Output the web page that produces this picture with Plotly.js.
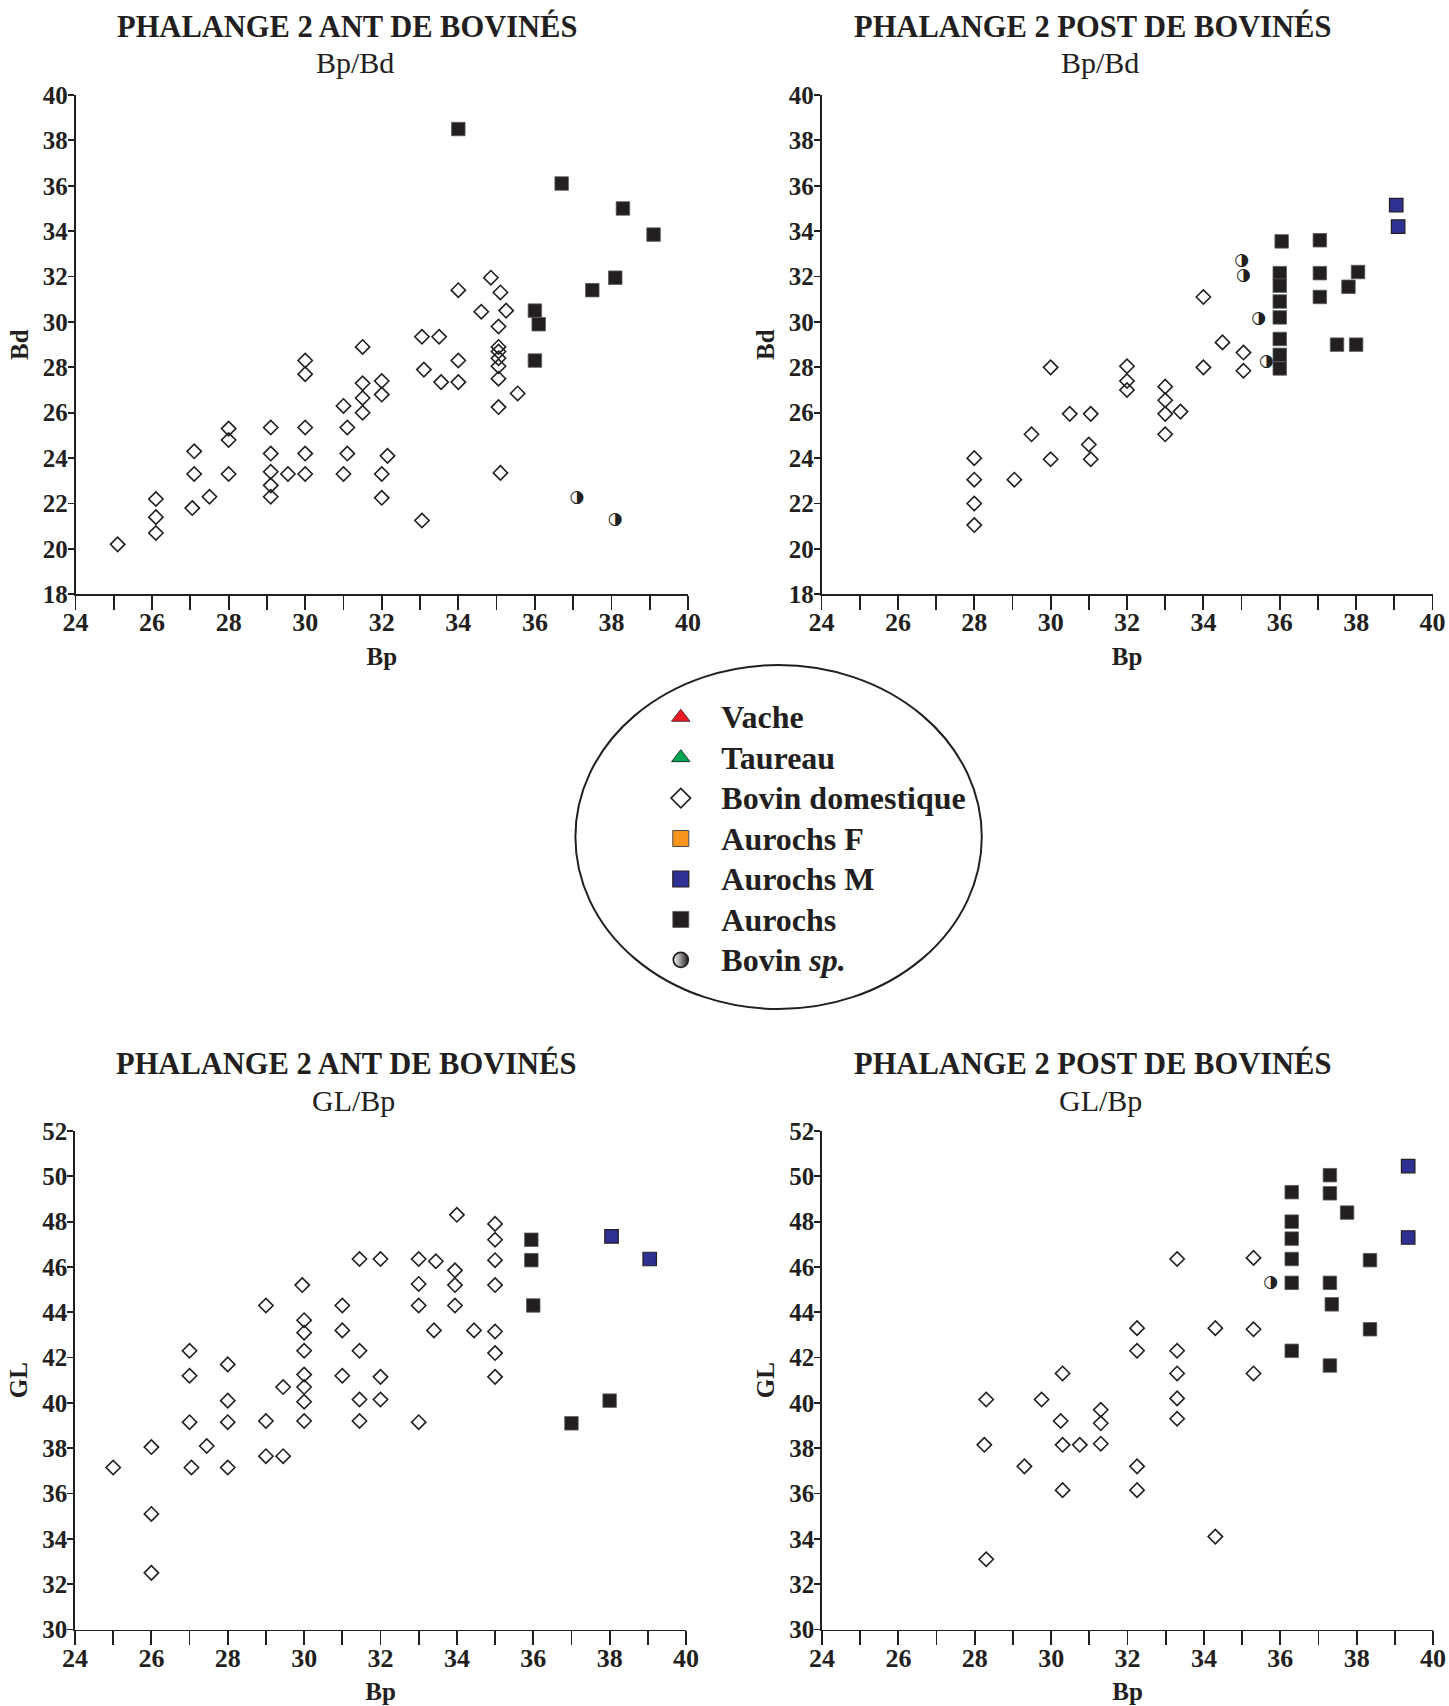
<!DOCTYPE html>
<html>
<head>
<meta charset="utf-8">
<script src="https://cdn.plot.ly/plotly-3.0.1.min.js"></script>
<style>
html,body{margin:0;padding:0;background:#ffffff;}
#chart{width:1449px;height:1706px;}
</style>
</head>
<body>
<div id="chart"></div>
<script>
// ---------- DATA ----------
// Panel 1 : Phalange 2 ANT, Bp / Bd
var antBd_domBp = [25.1,26.1,26.1,26.1,27.1,27.1,27.05,27.5,28,28,28,29.1,29.1,29.1,29.1,29.1,29.55,30,30,30,30,30,31,31.1,31.1,31,31.5,31.5,31.5,31.5,32,32,32,32,34.85,34,35.1,34.6,35.25,35.05,33.05,33.5,35.05,35.05,35.05,35.05,35.05,34,33.1,33.55,34,35.55,35.05,32.15,35.1,33.05];
var antBd_domBd = [20.2,22.2,21.4,20.7,24.3,23.3,21.8,22.3,25.3,24.8,23.3,25.35,24.2,23.4,22.8,22.3,23.3,28.3,27.7,25.35,24.2,23.3,26.3,25.35,24.2,23.3,28.9,27.3,26.65,26.0,27.4,26.8,23.3,22.25,31.95,31.4,31.3,30.45,30.5,29.8,29.35,29.35,28.9,28.7,28.4,28.05,27.5,28.3,27.9,27.35,27.35,26.85,26.25,24.1,23.35,21.25];
var antBd_aurBp = [34.0,36.7,38.3,39.1,38.1,37.5,36.0,36.1,36.0];
var antBd_aurBd = [38.5,36.1,35.0,33.85,31.95,31.4,30.5,29.9,28.3];
var antBd_spBp = [37.1,38.1];
var antBd_spBd = [22.25,21.3];

// Panel 2 : Phalange 2 POST, Bp / Bd
var postBd_domBp = [28,28,28,28,29.05,29.5,30,30,30.5,31.05,31,31.05,32,32,32,33,33,33,33.4,33,34,34,34.5,35.05,35.05];
var postBd_domBd = [24,23.05,22,21.05,23.05,25.05,28,23.95,25.95,25.95,24.6,23.95,28.05,27.4,27,27.15,26.55,25.95,26.05,25.05,31.1,28,29.1,28.65,27.85];
var postBd_aurBp = [36.05,36,36,36,36,36,36,36,37.05,37.05,37.05,38.05,37.8,37.5,38];
var postBd_aurBd = [33.55,32.15,31.6,30.9,30.2,29.25,28.55,27.95,33.6,32.15,31.1,32.2,31.55,29.0,29.0];
var postBd_aurMBp = [39.05,39.1];
var postBd_aurMBd = [35.15,34.2];
var postBd_spBp = [35.0,35.05,35.45,35.65];
var postBd_spBd = [32.7,32.05,30.15,28.25];

// Panel 3 : Phalange 2 ANT, GL / Bp
var antGL_domBp = [25.0,26.0,26.0,26.0,27.0,27.0,27.0,27.05,27.45,28.0,28.0,28.0,28.0,29.0,29.0,29.0,29.45,29.45,29.95,30.0,30.0,30.0,30.0,30.0,30.0,30.0,31.0,31.0,31.0,31.45,31.45,31.45,31.45,32.0,32.0,32.0,34.0,35.0,35.0,33.0,33.45,35.0,33.95,33.0,33.95,35.0,33.0,33.95,33.4,34.45,35.0,35.0,35.0,33.0];
var antGL_domGL = [37.15,38.05,35.1,32.5,42.3,41.2,39.15,37.15,38.1,41.7,40.1,39.15,37.15,44.3,39.2,37.65,40.7,37.65,45.2,43.65,43.1,42.3,41.25,40.7,40.05,39.2,44.3,43.2,41.2,46.35,42.3,40.15,39.2,46.35,41.15,40.15,48.3,47.9,47.2,46.35,46.25,46.3,45.85,45.25,45.2,45.2,44.3,44.3,43.2,43.2,43.15,42.2,41.15,39.15];
var antGL_aurBp = [35.95,35.95,36.0,38.0,37.0];
var antGL_aurGL = [47.2,46.3,44.3,40.1,39.1];
var antGL_aurMBp = [38.05,39.05];
var antGL_aurMGL = [47.35,46.35];

// Panel 4 : Phalange 2 POST, GL / Bp
var postGL_domBp = [28.3,28.25,28.3,29.3,29.75,30.3,30.25,30.3,30.3,30.75,31.3,31.3,31.3,32.25,32.25,32.25,32.25,33.3,33.3,33.3,33.3,33.3,34.3,34.3,35.3,35.3,35.3];
var postGL_domGL = [40.15,38.15,33.1,37.2,40.15,41.3,39.2,38.15,36.15,38.15,39.7,39.1,38.2,43.3,42.3,37.2,36.15,46.35,42.3,41.3,40.2,39.3,43.3,34.1,46.4,43.25,41.3];
var postGL_aurBp = [36.3,36.3,36.3,36.3,36.3,36.3,37.3,37.3,37.75,37.3,37.35,37.3,38.35,38.35];
var postGL_aurGL = [49.3,48.0,47.25,46.35,45.3,42.3,50.05,49.25,48.4,45.3,44.35,41.65,46.3,43.25];
var postGL_aurMBp = [39.35,39.35];
var postGL_aurMGL = [50.45,47.3];
var postGL_spBp = [35.75];
var postGL_spGL = [45.3];

// Labels
var panelTitles = ['PHALANGE 2 ANT DE BOVINÉS','PHALANGE 2 POST DE BOVINÉS','PHALANGE 2 ANT DE BOVINÉS','PHALANGE 2 POST DE BOVINÉS'];
var panelSubtitles = ['Bp/Bd','Bp/Bd','GL/Bp','GL/Bp'];
var legendNames = ['Vache','Taureau','Bovin domestique','Aurochs F','Aurochs M','Aurochs','Bovin <i>sp.</i>'];

// ---------- STYLE ----------
var INK = '#231f20';
var FONT = 'Liberation Serif';
var W = 1449, H = 1706;
var HALF_DISC = '\u25D1';   // circle with right half black (Bovin sp.)

var styles = {
  vache:   {symbol:'triangle-up', color:'#ed1c24', line:{color:'#5a2a2a', width:1}},
  taureau: {symbol:'triangle-up', color:'#00a651', line:{color:'#1e3a2a', width:1}},
  dom:     {symbol:'diamond-open', color:INK, line:{color:INK, width:1.6}},
  aurF:    {symbol:'square', color:'#f7941d', line:{color:'#4a4a4a', width:1}},
  aurM:    {symbol:'square', color:'#2e3192', line:{color:INK, width:1.2}},
  aur:     {symbol:'square', color:INK, line:{color:'#5a5a5a', width:0.8}},
  sp:      {symbol:'circle', color:'#ffffff', gradient:{type:'horizontal', color:INK}, line:{color:INK, width:1.8}}
};
var sizes = {dom:11, aur:13.5, aurM:13.5, sp:10, vache:14, taureau:14, aurF:14};

function mk(style, size){
  var m = JSON.parse(JSON.stringify(styles[style]));
  m.size = size;
  return m;
}
function pts(x, y, style, xa, ya){
  return {type:'scatter', mode:'markers', x:x, y:y, xaxis:xa, yaxis:ya,
          marker:mk(style, sizes[style]), showlegend:false, hoverinfo:'x+y', cliponaxis:false};
}
function halfDiscs(x, y, xa, ya){
  return {type:'scatter', mode:'text', x:x, y:y, xaxis:xa, yaxis:ya,
          text:x.map(function(){ return HALF_DISC; }), textposition:'middle center',
          textfont:{family:'DejaVu Sans', size:17, color:INK},
          showlegend:false, hoverinfo:'x+y', cliponaxis:false};
}

var traces = [
  pts(antBd_domBp, antBd_domBd, 'dom', 'x', 'y'),
  halfDiscs(antBd_spBp, antBd_spBd, 'x', 'y'),
  pts(antBd_aurBp, antBd_aurBd, 'aur', 'x', 'y'),

  pts(postBd_domBp, postBd_domBd, 'dom', 'x2', 'y2'),
  halfDiscs(postBd_spBp, postBd_spBd, 'x2', 'y2'),
  pts(postBd_aurBp, postBd_aurBd, 'aur', 'x2', 'y2'),
  pts(postBd_aurMBp, postBd_aurMBd, 'aurM', 'x2', 'y2'),

  pts(antGL_domBp, antGL_domGL, 'dom', 'x3', 'y3'),
  pts(antGL_aurBp, antGL_aurGL, 'aur', 'x3', 'y3'),
  pts(antGL_aurMBp, antGL_aurMGL, 'aurM', 'x3', 'y3'),

  pts(postGL_domBp, postGL_domGL, 'dom', 'x4', 'y4'),
  halfDiscs(postGL_spBp, postGL_spGL, 'x4', 'y4'),
  pts(postGL_aurBp, postGL_aurGL, 'aur', 'x4', 'y4'),
  pts(postGL_aurMBp, postGL_aurMGL, 'aurM', 'x4', 'y4')
];

// legend keys (one entry per category, bigger symbols as in the original key)
var legendStyles = ['vache','taureau','dom','aurF','aurM','aur','sp'];
var legendSizes = [16,16,15,16,16,16,15];
legendNames.forEach(function(n, i){
  traces.push({type:'scatter', mode:'markers', x:[null], y:[null], xaxis:'x', yaxis:'y',
    name:'<span style="font-size:32px">' + n + '</span>', showlegend:true,
    marker:mk(legendStyles[i], legendSizes[i]), hoverinfo:'skip'});
});

// ---------- LAYOUT ----------
function px2x(p){ return p / W; }
function px2y(p){ return 1 - p / H; }

function xAxis(d0, d1, anchor){
  return {
    domain:[px2x(d0), px2x(d1)], range:[24,40], anchor:anchor,
    tick0:24, dtick:2, ticks:'outside', ticklen:14, tickwidth:1.8, tickcolor:INK,
    minor:{tick0:24, dtick:1, ticks:'outside', ticklen:14, tickwidth:1.8, tickcolor:INK, showgrid:false},
    showline:true, linecolor:INK, linewidth:1.8, showgrid:false, zeroline:false, fixedrange:true,
    tickfont:{family:FONT, size:26, color:INK, weight:'bold'}, ticklabelstandoff:-10,
    title:{text:'Bp', font:{family:FONT, size:25, color:INK, weight:'bold'}, standoff:11}
  };
}
function yAxis(d0, d1, anchor, range, name){
  return {
    domain:[px2y(d1), px2y(d0)], range:range, anchor:anchor,
    tick0:range[0], dtick:2, ticks:'outside', ticklen:6, tickwidth:1.8, tickcolor:INK,
    showline:true, linecolor:INK, linewidth:1.8, showgrid:false, zeroline:false, fixedrange:true,
    tickfont:{family:FONT, size:25, color:INK, weight:'bold'}, ticklabelstandoff:-5,
    title:{text:name, font:{family:FONT, size:25, color:INK, weight:'bold'}, standoff:7}
  };
}

var titlePos = [[347,26.5],[1092.7,26.5],[346,1063.5],[1092.7,1063.5]];
var subPos = [[354.6,62.5],[1100.3,62.5],[353.5,1100.5],[1100.3,1100.5]];
var annotations = [];
panelTitles.forEach(function(t, i){
  annotations.push({text:t, x:px2x(titlePos[i][0]), y:px2y(titlePos[i][1]), xref:'paper', yref:'paper',
    xanchor:'center', yanchor:'middle', showarrow:false,
    font:{family:FONT, size:30.5, color:INK, weight:'bold'}});
  annotations.push({text:panelSubtitles[i], x:px2x(subPos[i][0]), y:px2y(subPos[i][1]), xref:'paper', yref:'paper',
    xanchor:'center', yanchor:'middle', showarrow:false,
    font:{family:FONT, size:30, color:INK}});
});

var layout = {
  width:W, height:H, margin:{l:0, r:0, t:0, b:0, pad:0},
  paper_bgcolor:'#ffffff', plot_bgcolor:'rgba(0,0,0,0)',
  font:{family:FONT, color:INK},
  showlegend:true,
  xaxis:  xAxis(75.5, 688, 'y'),
  yaxis:  yAxis(95, 594.3, 'x', [18,40], 'Bd'),
  xaxis2: xAxis(821.5, 1432.5, 'y2'),
  yaxis2: yAxis(95, 594.3, 'x2', [18,40], 'Bd'),
  xaxis3: xAxis(75, 686, 'y3'),
  yaxis3: yAxis(1131, 1629.5, 'x3', [30,52], 'GL'),
  xaxis4: xAxis(822, 1433, 'y4'),
  yaxis4: yAxis(1131, 1629.5, 'x4', [30,52], 'GL'),
  annotations:annotations,
  shapes:[{type:'circle', xref:'paper', yref:'paper',
    x0:px2x(575.4), x1:px2x(981.8), y0:px2y(1009), y1:px2y(665),
    line:{color:INK, width:2}, fillcolor:'rgba(0,0,0,0)'}],
  legend:{x:px2x(640.3), xanchor:'left', y:px2y(692), yanchor:'top', itemwidth:71,
    bgcolor:'rgba(0,0,0,0)', borderwidth:0, traceorder:'normal', itemsizing:'trace',
    font:{family:FONT, size:28.8, color:INK, weight:'bold'}, itemclick:false, itemdoubleclick:false}
};

Plotly.newPlot('chart', traces, layout, {staticPlot:true, displayModeBar:false});
</script>
</body>
</html>
